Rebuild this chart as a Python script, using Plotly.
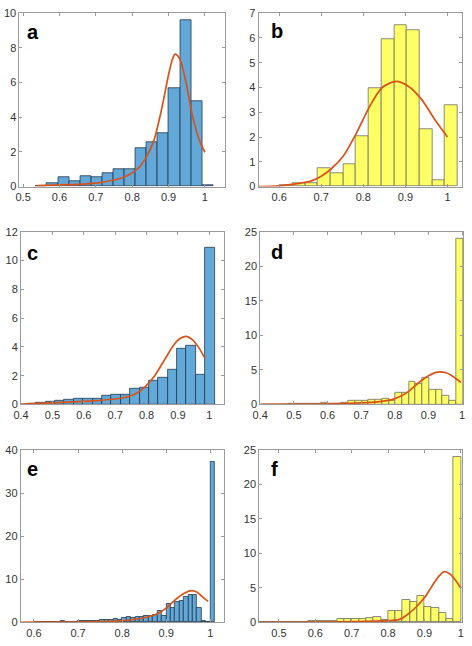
import numpy as np
import plotly.graph_objects as go

W, H = 472, 646

# ---------------- data ----------------
# panel a (blue)
a_bin_lo, a_bin_w = 0.535, 0.0305
a_counts = [0.05, 0.2, 0.55, 0.3, 0.6, 0.55, 0.75, 1.03, 1.03, 2.2, 2.55, 3.1, 5.7, 9.57, 4.94, 0.07]
a_fit_x = [0.54, 0.6, 0.65, 0.7, 0.75, 0.78, 0.8, 0.82, 0.84, 0.86, 0.88, 0.9, 0.91, 0.918, 0.93, 0.94, 0.95, 0.96, 0.97, 0.98, 0.99, 1.0]
a_fit_y = [0.06, 0.1, 0.13, 0.2, 0.38, 0.57, 0.8, 1.13, 1.74, 2.68, 4.38, 6.45, 7.3, 7.64, 7.4, 6.74, 5.8, 4.66, 3.72, 2.96, 2.4, 1.98]

# panel b (yellow)
b_bin_lo, b_bin_w = 0.6015, 0.0302
b_counts = [0.06, 0.15, 0.13, 0.75, 0.54, 0.89, 2.05, 3.98, 5.97, 6.53, 6.31, 2.33, 0.26, 3.29]
b_fit_x = [0.55, 0.6, 0.644, 0.675, 0.7, 0.722, 0.752, 0.783, 0.814, 0.845, 0.8785, 0.907, 0.938, 0.969, 1.0]
b_fit_y = [0.0, 0.03, 0.12, 0.22, 0.42, 0.69, 1.22, 2.14, 3.2, 4.0, 4.25, 4.05, 3.53, 2.73, 2.0]

# panel c (blue)
c_bin_lo, c_bin_w = 0.419, 0.0299
c_counts = [0.04, 0.1, 0.18, 0.25, 0.36, 0.4, 0.41, 0.41, 0.61, 0.65, 0.68, 1.07, 1.17, 1.67, 1.85, 2.4, 3.86, 4.07, 2.07, 10.89]
c_fit_x = [0.4, 0.462, 0.566, 0.629, 0.691, 0.733, 0.764, 0.795, 0.826, 0.857, 0.888, 0.909, 0.927, 0.946, 0.967, 0.986]
c_fit_y = [0.03, 0.07, 0.18, 0.25, 0.36, 0.5, 0.73, 1.23, 2.0, 3.09, 4.16, 4.61, 4.73, 4.5, 3.93, 3.2]

# panel d (yellow)
d_bin_lo, d_bin_w = 0.402, 0.02
d_counts = [0.02, 0.02, 0.03, 0.03, 0.04, 0.05, 0.05, 0.06, 0.08, 0.19, 0.14, 0.14, 0.28, 0.52, 0.52,
            0.6, 0.66, 0.75, 0.85, 0.47, 1.68, 1.73, 3.31, 2.98, 3.93, 2.2, 2.08, 1.28, 0.52, 24.05]
d_fit_x = [0.4, 0.5, 0.6, 0.7, 0.75, 0.78, 0.8, 0.82, 0.84, 0.86, 0.88, 0.9, 0.92, 0.935, 0.95, 0.965, 0.98, 0.997]
d_fit_y = [0.02, 0.04, 0.09, 0.22, 0.38, 0.6, 0.85, 1.25, 1.85, 2.7, 3.5, 4.15, 4.6, 4.73, 4.62, 4.3, 3.8, 3.2]

# panel e (blue)
e_bin_lo, e_bin_w = 0.6, 0.01
e_counts = [0.05, 0.03, 0.03, 0.05, 0.05, 0.08, 0.25, 0.08, 0.1, 0.15,
            0.45, 0.45, 0.45, 0.45, 0.35, 0.65, 0.65, 0.65, 0.7, 0.55,
            1.05, 1.2, 1.05, 1.3, 1.2, 1.6, 1.6, 1.8, 2.6, 1.6,
            4.3, 3.3, 4.8, 4.95, 5.9, 6.3, 6.3, 3.3, 0.3, 0.0,
            37.2]
e_fit_x = [0.57, 0.6, 0.7, 0.75, 0.788, 0.82, 0.85, 0.88, 0.9, 0.92, 0.94, 0.957, 0.97, 0.98, 0.995]
e_fit_y = [0.02, 0.04, 0.08, 0.15, 0.3, 0.6, 1.06, 2.0, 3.3, 5.2, 6.7, 7.35, 7.0, 6.1, 4.85]

# panel f (yellow)
f_bin_lo, f_bin_w = 0.44, 0.02
f_counts = [0.02, 0.02, 0.03, 0.06, 0.04, 0.05, 0.08, 0.19, 0.15, 0.15, 0.28, 0.43, 0.47, 0.57,
            0.57, 0.71, 0.76, 0.4, 1.6, 1.7, 3.25, 3.0, 3.9, 2.2, 2.1, 1.3, 0.45, 24.0]
f_fit_x = [0.446, 0.553, 0.63, 0.71, 0.778, 0.832, 0.86, 0.88, 0.9, 0.92, 0.94, 0.955, 0.97, 0.985, 1.0]
f_fit_y = [0.0, 0.01, 0.05, 0.1, 0.2, 0.43, 1.4, 2.37, 3.55, 5.2, 6.7, 7.34, 7.0, 6.15, 4.97]

# axis ticks / ranges
a_xticks, a_yticks = [0.5, 0.6, 0.7, 0.8, 0.9, 1.0], [0, 2, 4, 6, 8, 10]
b_xticks, b_yticks = [0.6, 0.7, 0.8, 0.9, 1.0], [0, 1, 2, 3, 4, 5, 6, 7]
c_xticks, c_yticks = [0.4, 0.5, 0.6, 0.7, 0.8, 0.9, 1.0], [0, 2, 4, 6, 8, 10, 12]
d_xticks, d_yticks = [0.4, 0.5, 0.6, 0.7, 0.8, 0.9, 1.0], [0, 5, 10, 15, 20, 25]
e_xticks, e_yticks = [0.6, 0.7, 0.8, 0.9, 1.0], [0, 10, 20, 30, 40]
f_xticks, f_yticks = [0.5, 0.6, 0.7, 0.8, 0.9, 1.0], [0, 5, 10, 15, 20, 25]

labels = ["a", "b", "c", "d", "e", "f"]

# ---------------- styling / layout ----------------
BLUE, BLUE_EDGE = "#62A8D9", "#26384a"
YELLOW, YELLOW_EDGE = "#FFFF66", "#6f6f5f"
FIT = "#D95319"
FRAME = "#9a9a9a"
TICKFONT = dict(family="Liberation Sans Narrow, Arial Narrow, Arial, Liberation Sans", size=11, color="#333333")

panels = [
    dict(lo=a_bin_lo, w=a_bin_w, n=a_counts, fx=a_fit_x, fy=a_fit_y, xt=a_xticks, yt=a_yticks,
         xr=[0.49, 1.056], yr=[0, 10], fill=BLUE, edge=BLUE_EDGE, box=(11.7, 222, 7.3, 184), lab=(17, 26)),
    dict(lo=b_bin_lo, w=b_bin_w, n=b_counts, fx=b_fit_x, fy=b_fit_y, xt=b_xticks, yt=b_yticks,
         xr=[0.551, 1.035], yr=[0, 7], fill=YELLOW, edge=YELLOW_EDGE, box=(256, 464, 7.3, 184), lab=(267, 25)),
    dict(lo=c_bin_lo, w=c_bin_w, n=c_counts, fx=c_fit_x, fy=c_fit_y, xt=c_xticks, yt=c_yticks,
         xr=[0.4, 1.047], yr=[0, 12], fill=BLUE, edge=BLUE_EDGE, box=(13.3, 220.7, 230, 406), lab=(17, 252)),
    dict(lo=d_bin_lo, w=d_bin_w, n=d_counts, fx=d_fit_x, fy=d_fit_y, xt=d_xticks, yt=d_yticks,
         xr=[0.4, 1.003], yr=[0, 25], fill=YELLOW, edge=YELLOW_EDGE, box=(257.7, 465, 230, 406), lab=(267, 251)),
    dict(lo=e_bin_lo, w=e_bin_w, n=e_counts, fx=e_fit_x, fy=e_fit_y, xt=e_xticks, yt=e_yticks,
         xr=[0.57, 1.031], yr=[0, 40], fill=BLUE, edge=BLUE_EDGE, box=(13, 220.7, 452.3, 628), lab=(17, 472)),
    dict(lo=f_bin_lo, w=f_bin_w, n=f_counts, fx=f_fit_x, fy=f_fit_y, xt=f_xticks, yt=f_yticks,
         xr=[0.446, 1.003], yr=[0, 25], fill=YELLOW, edge=YELLOW_EDGE, box=(256.7, 463.7, 452.3, 628), lab=(267, 472)),
]

fig = go.Figure()
layout = dict(width=W, height=H, margin=dict(l=0, r=0, t=0, b=0),
              paper_bgcolor="white", plot_bgcolor="white", showlegend=False,
              bargap=0, annotations=[])

for i, p in enumerate(panels):
    k = "" if i == 0 else str(i + 1)
    xa, ya = "x" + k, "y" + k
    counts = np.array(p["n"], dtype=float)
    centers = p["lo"] + p["w"] * (np.arange(len(counts)) + 0.5)
    fig.add_trace(go.Bar(x=centers, y=counts, width=p["w"], xaxis=xa, yaxis=ya,
                         marker=dict(color=p["fill"], line=dict(color=p["edge"], width=0.8)),
                         hoverinfo="skip"))
    fig.add_trace(go.Scatter(x=p["fx"], y=p["fy"], mode="lines", xaxis=xa, yaxis=ya,
                             line=dict(color=FIT, width=1.7, shape="spline", smoothing=0.8),
                             hoverinfo="skip"))
    l, r, t, b = p["box"]
    common = dict(showgrid=False, zeroline=False, showline=True, linecolor=FRAME, linewidth=1,
                  mirror="ticks", ticks="inside", ticklen=3, tickcolor=FRAME, tickwidth=1,
                  tickfont=TICKFONT)
    layout["xaxis" + k] = dict(domain=[l / W, r / W], range=p["xr"], anchor=ya,
                               tickvals=p["xt"], ticktext=[("%g" % v) for v in p["xt"]], **common)
    layout["yaxis" + k] = dict(domain=[1 - b / H, 1 - t / H], range=p["yr"], anchor=xa,
                               tickvals=p["yt"], ticktext=[str(v) for v in p["yt"]], **common)
    lx, ly = p["lab"]
    layout["annotations"].append(dict(text="<b>%s</b>" % labels[i], xref="paper", yref="paper",
                                      x=lx / W, y=1 - ly / H, xanchor="left", yanchor="middle",
                                      showarrow=False,
                                      font=dict(family="Arial, Liberation Sans", size=20, color="black")))

fig.update_layout(**layout)
fig.write_html("out.html", config={"displayModeBar": False},
               post_script="document.body.style.margin='0px';document.body.style.padding='0px';")
